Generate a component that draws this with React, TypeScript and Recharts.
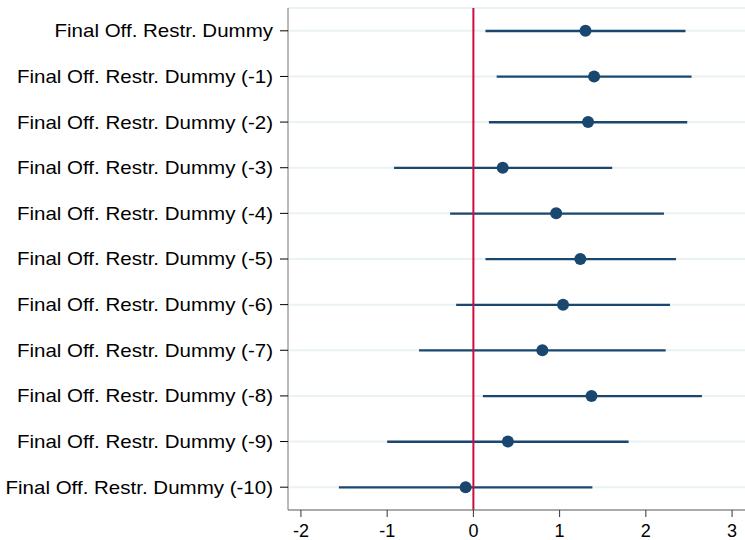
import {
  ComposedChart,
  Bar,
  Line,
  XAxis,
  YAxis,
  CartesianGrid,
  ReferenceLine,
} from "recharts";

const labels = [
  "Final Off. Restr. Dummy",
  "Final Off. Restr. Dummy (-1)",
  "Final Off. Restr. Dummy (-2)",
  "Final Off. Restr. Dummy (-3)",
  "Final Off. Restr. Dummy (-4)",
  "Final Off. Restr. Dummy (-5)",
  "Final Off. Restr. Dummy (-6)",
  "Final Off. Restr. Dummy (-7)",
  "Final Off. Restr. Dummy (-8)",
  "Final Off. Restr. Dummy (-9)",
  "Final Off. Restr. Dummy (-10)",
];
const coef = [1.3, 1.4, 1.33, 0.34, 0.96, 1.24, 1.04, 0.8, 1.37, 0.4, -0.09];
const ciLow = [0.14, 0.27, 0.18, -0.92, -0.27, 0.14, -0.2, -0.63, 0.11, -1.0, -1.56];
const ciHigh = [2.46, 2.53, 2.48, 1.61, 2.21, 2.35, 2.28, 2.23, 2.65, 1.8, 1.38];
const xTicks = [-2, -1, 0, 1, 2, 3];

const NAVY = "#1a476f";
const FONT = "'Liberation Sans', Arial, sans-serif";

const data = labels.map((name, i) => ({
  name,
  coef: coef[i],
  ci: [ciLow[i], ciHigh[i]],
}));

const CiLine = (props: any) => {
  const { x, y, width, height } = props;
  const cy = y + height / 2;
  return (
    <line x1={x} x2={x + width} y1={cy} y2={cy} stroke={NAVY} strokeWidth={2.3} />
  );
};

const Dot = (props: any) => {
  const { cx, cy, index } = props;
  return <circle key={index} cx={cx} cy={cy} r={6} fill={NAVY} />;
};

// labels in the original are a bit wider than Arial, stretch them a touch
const YTick = (props: any) => {
  const { x, y, payload } = props;
  return (
    <text
      transform={`translate(${x},${y}) scale(1.14,1)`}
      textAnchor="end"
      dy="0.36em"
      fontSize={18}
      fontFamily={FONT}
      fill="#000"
    >
      {payload.value}
    </text>
  );
};

export default function App() {
  return (
    <div style={{ position: "absolute", left: 0, top: 0, background: "#fff" }}>
      <ComposedChart
        width={745}
        height={540}
        data={data}
        layout="vertical"
        margin={{ top: 8, right: 0, bottom: 0, left: 0 }}
      >
        <CartesianGrid vertical={false} stroke="#eaf2f3" strokeWidth={2} />
        <XAxis
          type="number"
          domain={[-2.15, 3.15]}
          ticks={xTicks}
          allowDataOverflow
          height={30}
          tickSize={7}
          tickMargin={7}
          axisLine={{ stroke: "#666" }}
          tickLine={{ stroke: "#333" }}
          tick={{ fill: "#000", fontSize: 18, fontFamily: FONT }}
        />
        <YAxis
          type="category"
          dataKey="name"
          width={288}
          tickSize={8}
          tickMargin={7}
          interval={0}
          axisLine={{ stroke: "#777" }}
          tickLine={{ stroke: "#000" }}
          tick={YTick}
        />
        <ReferenceLine x={0} stroke="#c8103e" strokeWidth={2} />
        <Bar dataKey="ci" barSize={4} shape={CiLine} isAnimationActive={false} />
        <Line
          dataKey="coef"
          stroke="none"
          dot={Dot}
          activeDot={false}
          isAnimationActive={false}
        />
      </ComposedChart>
    </div>
  );
}
